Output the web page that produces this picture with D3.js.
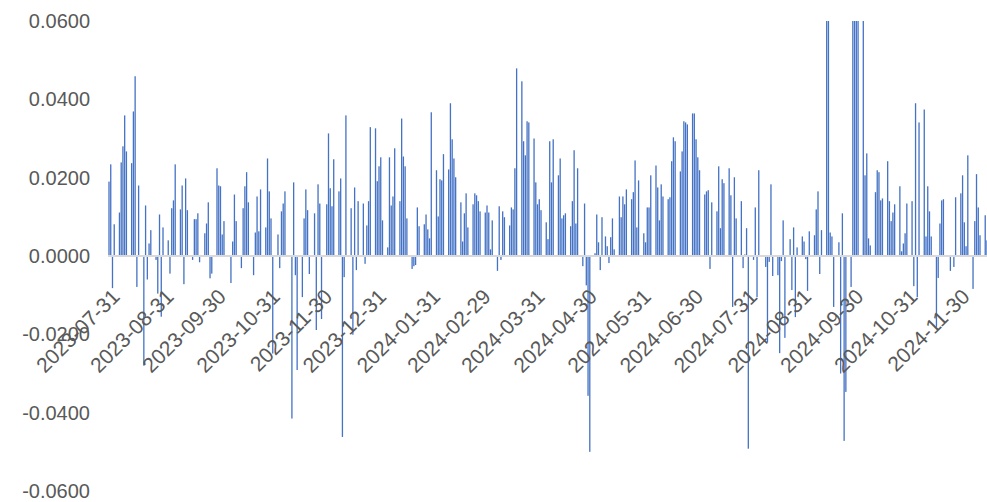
<!DOCTYPE html>
<html>
<head>
<meta charset="utf-8">
<script src="https://cdn.jsdelivr.net/npm/d3@7"></script>
<style>
  body { margin: 0; background: #fff; }
  text { font-family: "Liberation Sans", Arial, sans-serif; fill: #595959; }
</style>
</head>
<body>
<svg id="chart" width="987" height="502"></svg>
<script>
// days since 2023-07-31 for each bar, and the daily value on that day
const dayOffsets = [
  0,1,2,3,6,7,8,9,10,13,14,15,16,17,20,21,22,23,24,27,28,29,30,31,34,35,36,37,38,41,42,43,44,45,48,49,50,51,52,55,56,57,58,59,
  62,63,64,65,66,70,71,72,73,76,77,78,79,80,83,84,85,86,87,90,91,92,93,94,97,98,99,100,101,105,106,107,108,111,112,113,114,115,118,119,120,121,122,
  125,126,127,128,129,132,133,134,135,136,139,140,141,142,143,146,147,148,149,150,153,154,155,156,157,160,161,162,163,164,167,168,169,170,171,174,175,176,177,178,181,182,183,184,185,
  188,189,190,191,192,195,196,197,198,199,202,203,204,205,206,209,210,211,212,213,216,217,218,219,220,223,224,225,226,227,230,231,232,233,234,237,238,239,240,241,244,245,246,247,248,
  251,252,253,254,255,258,259,260,261,262,265,266,267,268,269,272,273,274,275,276,279,280,281,282,283,285,286,287,288,289,290,293,294,295,296,297,300,301,302,303,304,307,308,309,310,311,
  314,315,316,317,318,321,322,323,324,325,328,329,330,331,332,335,336,337,338,339,342,343,344,345,346,349,350,351,352,353,356,357,358,359,360,363,364,365,366,367,370,371,372,373,
  377,378,379,380,381,384,385,386,387,388,391,392,393,394,395,398,399,400,401,402,405,406,407,408,409,412,413,414,415,416,419,420,421,422,423,426,427,428,429,430,433,434,435,436,437,
  440,441,442,443,444,447,448,449,450,451,454,455,456,457,458,461,462,463,464,465,468,469,470,471,472,475,476,477,478,479,483,485,486,489,490,491,492,493,496,497,498,499,500,503,504
];
const values = [
  .019,.0234,-.0082,.0081,.0111,.0239,.028,.0359,.0267,.0237,.0369,.0459,-.0079,.018,-.028,.0129,-.006,.0032,.0066,-.001,-.0096,.0106,-.0155,.0073,.004,-.0045,.0122,.0142,.0234,.0119,.018,-.0072,.0198,.0117,-.001,.0094,.0094,.0109,-.0016,.0058,.0083,.0137,-.0057,-.0045,
  .0224,.018,.0178,.0055,.0089,-.0069,.0037,.0157,.0089,-.0031,.0122,.0178,.0214,.0137,-.0049,.006,.0152,.0063,.017,.0073,.0249,.0165,.0096,-.0249,.0055,-.0031,.0114,.0134,.0165,-.0415,.0188,-.0049,-.0291,-.0105,.0096,.017,.0117,-.0046,.0109,-.0189,.0183,.0134,-.0161,
  .0132,.0313,.0173,.0127,.0247,.0165,.0198,-.0462,-.0054,.0359,.0122,-.0201,.0175,-.0036,.014,.0134,-.002,.0078,.014,.0329,.0326,.0191,.0229,.0252,.0091,.0022,.0252,.0129,.0152,.0275,.014,.0351,.0254,.0229,.0096,-.0033,-.0026,-.0023,.0124,.0076,.0081,.0106,.0068,.0045,.0367,
  .0219,.0101,.0196,.0193,.026,.0221,.039,.0298,.0249,.0201,.0137,.0037,.0109,.016,.0073,.0132,.016,.0155,.014,.0114,.0111,.0129,.0111,.0017,.0091,-.0038,.0127,-.001,.0114,.0099,.0078,.0124,.0119,.0224,.0479,.0446,.0293,.0257,.0344,.0341,.03,.0188,.0132,.0145,.0117,
  .0086,.0043,.0293,.0188,.0298,.0206,.0249,.0096,.0104,.0109,.0076,.014,.027,.0083,.0224,-.0026,.0134,-.0075,-.0357,-.05,.0007,.0106,.0035,-.0036,.0099,.005,.0025,-.0018,.0048,.0096,.0017,.0152,.0099,.0152,.0132,.017,.0145,.0163,.0244,.0073,.0193,.0058,.0035,.0124,.0124,.0206,
  .0231,.0175,.0091,.0183,.0152,.0145,.015,.0242,.0303,.0293,.0216,.0267,.0344,.0341,.0336,.0364,.0364,.0298,.0252,.0219,.0157,.0165,.0168,-.0033,.0137,.0114,.0229,.0071,.0196,.0186,.0224,.0155,-.013,.0201,.0096,.014,-.0031,.0004,.0071,-.0492,-.001,.0124,-.0105,.0219,
  -.0028,-.022,-.0015,.0183,-.0051,-.0049,-.0248,-.0013,.0091,-.0209,.0043,-.0087,.0073,-.0156,.0022,.005,.0037,-.0008,-.0089,.0063,.0053,.0119,.0165,-.0046,.0066,.075,.08,.006,.005,-.013,.0035,-.03,.0109,-.0472,-.0347,-.0079,.09,.1,.085,.07,.065,.0206,.0262,.0045,.0027,
  .0163,.0219,.0214,.0142,.0147,.0242,.014,.0089,.0111,.0132,.0178,.0012,.0032,.0058,.0134,.014,-.0077,.039,-.0105,.0341,.0374,.005,.0178,.0114,.005,-.0181,-.0056,.0083,.0142,.0145,-.0038,-.0028,.015,.016,.0206,.0086,.0025,.0257,-.0084,.0089,.0209,.0124,.0053,.0104,.004
];
const tickDates = ["2023-07-31","2023-08-31","2023-09-30","2023-10-31","2023-11-30","2023-12-31",
  "2024-01-31","2024-02-29","2024-03-31","2024-04-30","2024-05-31","2024-06-30",
  "2024-07-31","2024-08-31","2024-09-30","2024-10-31","2024-11-30"];
const yTicks = [-0.06, -0.04, -0.02, 0, 0.02, 0.04, 0.06];

const parse = d3.utcParse("%Y-%m-%d");
const start = parse("2023-07-31");
const bars = dayOffsets.map((d, i) => ({ date: d3.utcDay.offset(start, d), value: values[i] }));

const svg = d3.select("#chart");
const x = d3.scaleUtc()
  .domain([start, d3.utcDay.offset(start, 505)])
  .range([109, 109 + 505 * 1.742]);
const y = d3.scaleLinear().domain([-0.06, 0.06]).range([491, 21]);

svg.append("defs").append("clipPath").attr("id", "plot")
  .append("rect").attr("x", 100).attr("y", y(0.06)).attr("width", 900).attr("height", y(-0.06) - y(0.06));

// y labels
svg.append("g").selectAll("text").data(yTicks).join("text")
  .attr("x", 90).attr("y", d => y(d)).attr("dy", "0.35em")
  .attr("text-anchor", "end").attr("font-size", 20)
  .text(d => d3.format(".4f")(d).replace("−", "-"));

// bars
svg.append("g").attr("clip-path", "url(#plot)").selectAll("rect").data(bars).join("rect")
  .attr("x", d => x(d.date) - 0.65)
  .attr("width", 1.3)
  .attr("y", d => y(Math.max(0, d.value)))
  .attr("height", d => Math.abs(y(d.value) - y(0)))
  .attr("fill", "#4472C4");

// zero line
svg.append("line").attr("x1", 108).attr("x2", 987).attr("y1", y(0)).attr("y2", y(0))
  .attr("stroke", "#d9d9d9").attr("stroke-width", 2);

// x labels
svg.append("g").selectAll("text").data(tickDates).join("text")
  .attr("transform", d => `translate(${x(parse(d)) + 12},${y(0) + 42}) rotate(-45)`)
  .attr("text-anchor", "end").attr("font-size", 21)
  .text(d => d);
</script>
</body>
</html>
